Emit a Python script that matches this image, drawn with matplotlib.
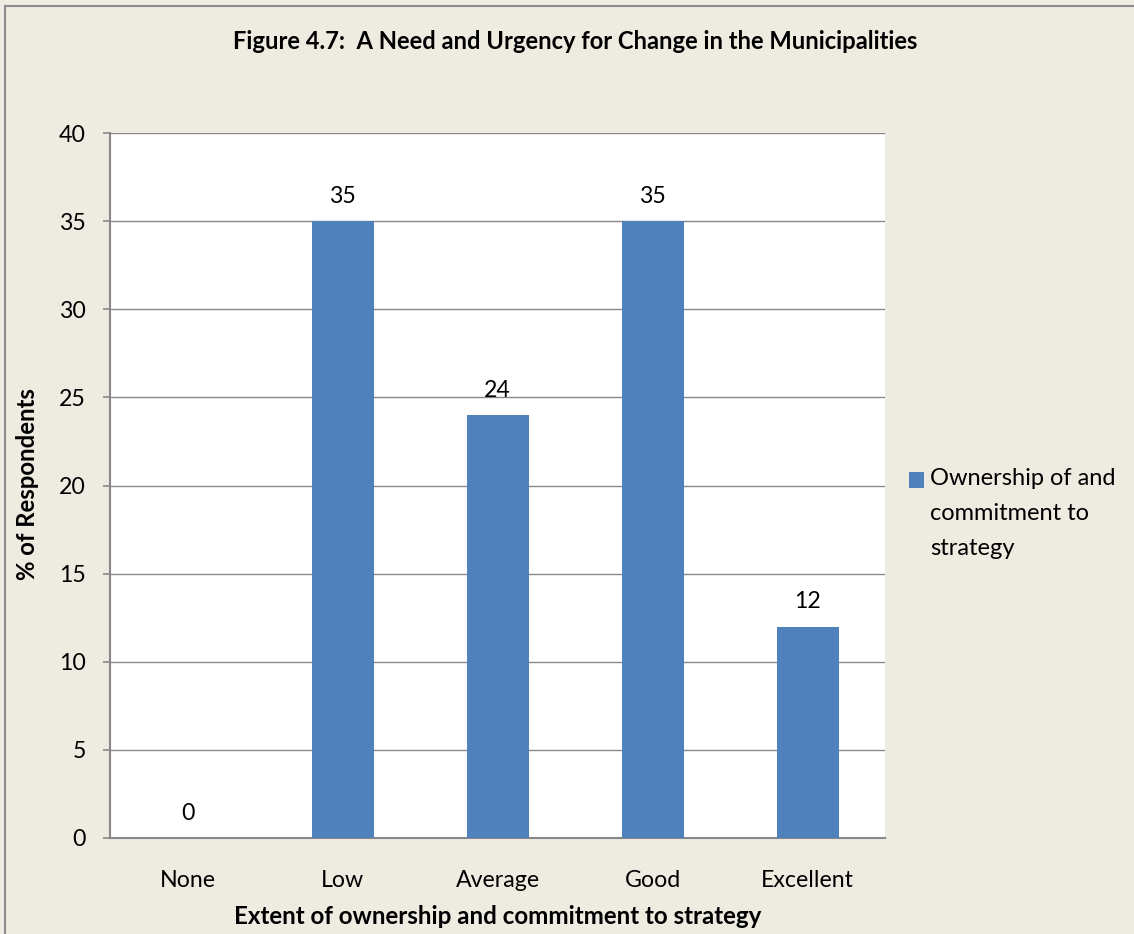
import matplotlib
matplotlib.use("Agg")
import matplotlib.pyplot as plt
from matplotlib.patches import Rectangle

categories = ["None", "Low", "Average", "Good", "Excellent"]
values = [0, 35, 24, 35, 12]
series_name = "Ownership of and\ncommitment to\nstrategy"
title = "Figure 4.7:  A Need and Urgency for Change in the Municipalities"
xlabel = "Extent of ownership and commitment to strategy"
ylabel = "% of Respondents"

W, H = 1134, 934
DPI = 100
PT = 72.0 / DPI  # points per pixel
bg = "#EEEBE1"
bar_color = "#4F81BD"
grey = "#888888"
FAM = ['Lato', 'DejaVu Sans']
plt.rcParams['font.family'] = FAM

fig = plt.figure(figsize=(W/DPI, H/DPI), dpi=DPI, facecolor=bg)
renderer = fig.canvas.get_renderer()


def fit_size(s, target, start, weight='normal', dim='w', rotation=0):
    size = start
    for _ in range(4):
        t = fig.text(0, 0, s, fontsize=size, fontweight=weight, rotation=rotation)
        bb = t.get_window_extent(renderer)
        t.remove()
        cur = bb.width if dim == 'w' else bb.height
        size *= target / cur
    return size


tick_fs = fit_size("Average", 84, 14)
title_fs = fit_size(title, 686, 13, weight='bold')
xlab_fs = fit_size(xlabel, 529, 13, weight='bold')
ylab_fs = fit_size(ylabel, 192, 13, weight='bold', dim='h', rotation=90)
leg_fs = fit_size("Ownership of and", 185, 14)

# outer border (left and top visible)
fig.patches.append(Rectangle((5/W, -0.1), 1.2, (H-5.5)/H + 0.1, transform=fig.transFigure,
                             fill=False, edgecolor="#8C8C8C", lw=1.5))

ax = fig.add_axes([110/W, 1-838/H, (885-110)/W, (838-133)/H])
ax.set_facecolor("white")
x = list(range(len(categories)))
ax.bar(x, values, width=0.4, color=bar_color, label=series_name, zorder=3)
ax.set_xlim(-0.5, len(categories)-0.5)
ax.set_ylim(0, 40)
ax.set_yticks(range(0, 41, 5))
ax.grid(axis='y', color=grey, lw=1, zorder=0)
for s in ["top", "right"]:
    ax.spines[s].set_visible(False)
for s in ["left", "bottom"]:
    ax.spines[s].set_color(grey)
    ax.spines[s].set_linewidth(1.5)
ax.set_xticks(x)
ax.set_xticklabels(categories, fontsize=tick_fs, va='baseline')
ax.tick_params(axis='x', length=0, pad=49*PT)
ax.tick_params(axis='y', length=7*PT, width=1.2, color=grey, labelsize=tick_fs, pad=17*PT)

for xi, v in zip(x, values):
    ax.annotate(str(v), (xi, v), xytext=(0, 18*PT), textcoords='offset points',
                ha='center', va='baseline', fontsize=tick_fs)

ax.set_xlabel(xlabel, fontsize=xlab_fs, fontweight='bold', va='baseline')
ax.xaxis.set_label_coords(0.5, -(924-838)/705)
ax.set_ylabel(ylabel, fontsize=ylab_fs, fontweight='bold', va='center', ha='center')
ax.yaxis.set_label_coords((28-110)/775, (838-484)/705)

fig.text(575/W, 1-49/H, title, ha='center', va='baseline', fontsize=title_fs, fontweight='bold')

hsize = 15.0 / (leg_fs / PT)  # handle size in font-size units
leg = ax.legend(loc='upper left', bbox_to_anchor=(930/W, 1-468/H), bbox_transform=fig.transFigure,
                frameon=False, fontsize=leg_fs, handlelength=hsize, handleheight=hsize,
                handletextpad=6.0/(leg_fs/PT), borderaxespad=0, borderpad=0)
ltext = leg.get_texts()[0]
# line pitch ~31 px
_, lh, ld = renderer.get_text_width_height_descent("lp", ltext.get_fontproperties(), ismath=False)
ltext.set_linespacing(31.0 / (lh - ld))

# adjust legend so text starts at x=930 and top at y=468
for _ in range(2):
    fig.canvas.draw()
    bb = ltext.get_window_extent(renderer)
    dx = 930 - bb.x0
    dy = (H - 468) - bb.y1
    ax0, ay0 = leg.get_bbox_to_anchor().x0, leg.get_bbox_to_anchor().y1
    leg.set_bbox_to_anchor(((ax0 + dx)/W, (ay0 + dy)/H), transform=fig.transFigure)

# align handle with first text line (center y = 480 from top)
fig.canvas.draw()
handle = leg.legend_handles[0]
hb = handle.get_window_extent(renderer)
dyh = (H - 480) - (hb.y0 + hb.y1) / 2
handle.set_y(handle.get_y() + dyh * PT)

fig.savefig("out.png", dpi=DPI, facecolor=bg)
